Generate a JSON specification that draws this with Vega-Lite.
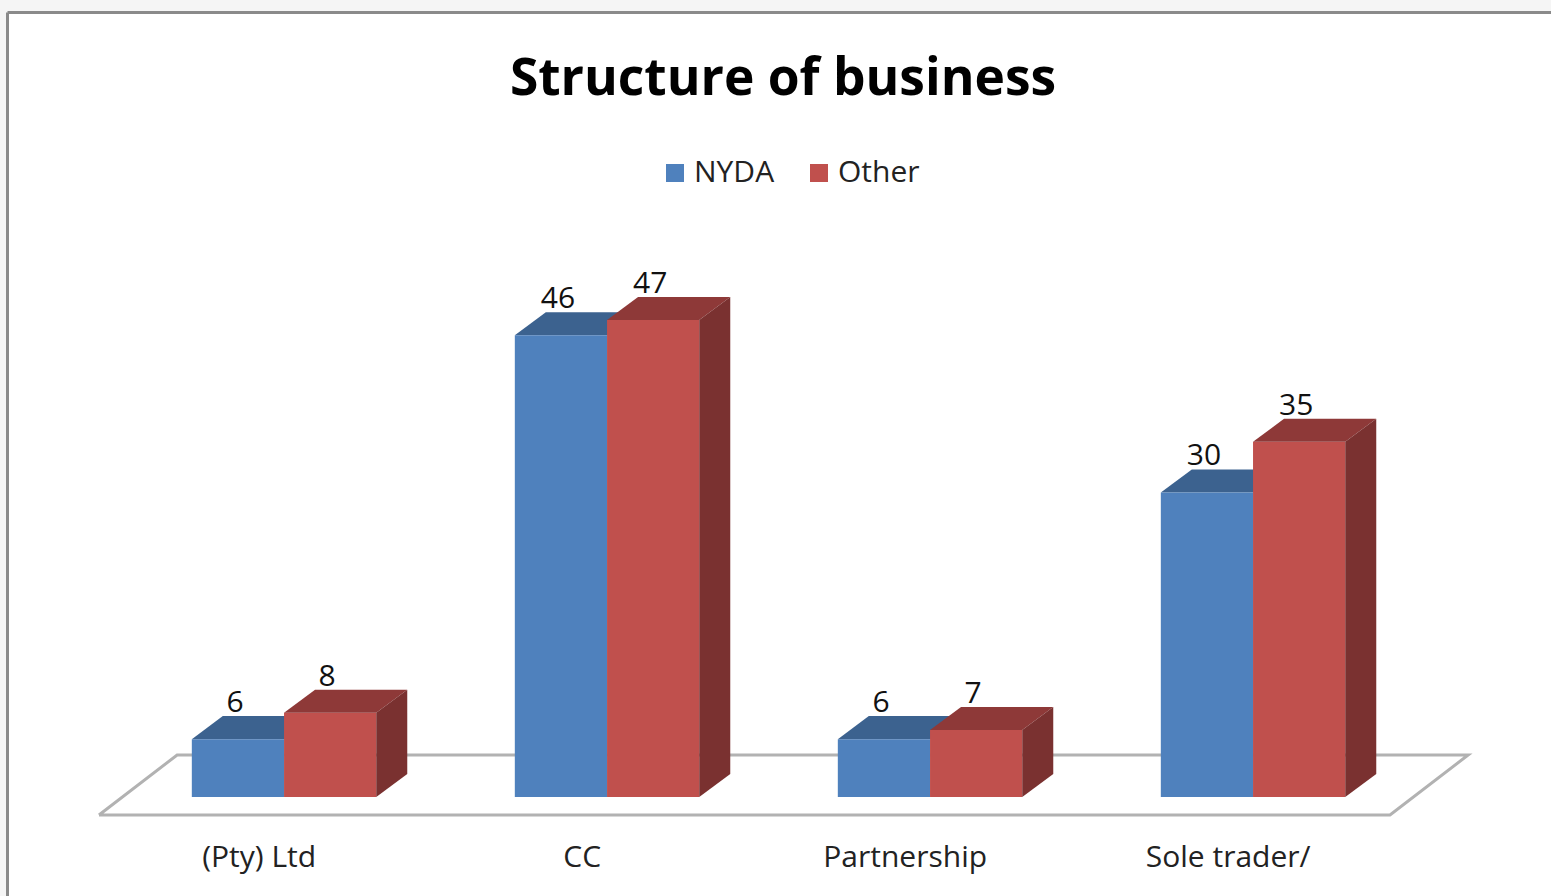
{
"$schema":"https://vega.github.io/schema/vega-lite/v6.json",
"autosize":"none","width":1544,"height":884,
"padding":{"left":7,"top":12,"right":0,"bottom":0},
"background":"#f5f5f5",
"config":{"view":{"fill":"#ffffff","stroke":null},"font":"Open Sans"},
"title":{"text":"Structure of business","font":"Open Sans","fontWeight":"bold","fontSize":51.5,"color":"#000000","anchor":"middle","offset":-134,"dx":4,"baseline":"alphabetic"},
"resolve":{"axis":{"x":"independent","y":"independent"}},
"datasets":{
"bars":[
{"business":"(Pty) Ltd","series":"NYDA","value":5.7},
{"business":"(Pty) Ltd","series":"Other","value":8.3},
{"business":"CC","series":"NYDA","value":45.5},
{"business":"CC","series":"Other","value":47},
{"business":"Partnership","series":"NYDA","value":5.7},
{"business":"Partnership","series":"Other","value":6.6},
{"business":"Sole trader/","series":"NYDA","value":30},
{"business":"Sole trader/","series":"Other","value":35}
],
"floor":[
{"fx":-0.576,"fy":-1.773},{"fx":-0.334,"fy":4.138},{"fx":3.663,"fy":4.138},{"fx":3.421,"fy":-1.773},{"fx":-0.576,"fy":-1.773}
]},
"data":{"name":"bars"},
"transform":[
{"calculate":"indexof(['(Pty) Ltd','CC','Partnership','Sole trader/'],datum.business)","as":"idx"},
{"calculate":"datum.idx-0.003+(datum.series==='NYDA'?-0.2855:0)","as":"x0"},
{"calculate":"datum.x0+0.2855","as":"x1"}
],
"layer":[
{"data":{"name":"floor"},"transform":[],
 "mark":{"type":"line","color":"#b2b2b2","strokeWidth":3,"strokeJoin":"miter"},
 "encoding":{"order":{"value":null},
  "x":{"field":"fx","type":"quantitative","scale":{"domain":[-0.8607,3.9195],"nice":false,"zero":false},"axis":{"orient":"top","labels":false,"ticks":false,"grid":false,"title":null,"domainColor":"#8a8a8a","domainWidth":3}},
  "y":{"field":"fy","type":"quantitative","scale":{"domain":[-9.754,77.34],"nice":false,"zero":false},"axis":{"orient":"left","labels":false,"ticks":false,"grid":false,"title":null,"domainColor":"#8a8a8a","domainWidth":3}}}},
{"transform":[{"filter":"datum.series==='NYDA'"},{"calculate":"datum.value","as":"near"},{"calculate":"datum.value+2.27","as":"far"},{"fold":["near","far"],"as":["edge","yv"]},{"calculate":"datum.x0+(datum.edge==='far'?0.096:0)","as":"xa"},{"calculate":"datum.xa+0.2855","as":"xb"}],
 "mark":{"type":"area","orient":"horizontal","color":"#3C628F","opacity":1},
 "encoding":{"detail":{"field":"business"},
  "x":{"field":"xa","type":"quantitative","scale":{"domain":[-0.8607,3.9195],"nice":false,"zero":false},"axis":null},"x2":{"field":"xb"},
  "y":{"field":"yv","type":"quantitative","scale":{"domain":[-9.754,77.34],"nice":false,"zero":false},"axis":null}}},
{"mark":{"type":"rect"},
 "encoding":{
  "x":{"field":"x0","type":"quantitative","scale":{"domain":[-0.8607,3.9195],"nice":false,"zero":false},"axis":null},"x2":{"field":"x1"},
  "y":{"field":"value","type":"quantitative","scale":{"domain":[-9.754,77.34],"nice":false,"zero":false},"axis":null},"y2":{"datum":0},
  "color":{"field":"series","type":"nominal","scale":{"domain":["NYDA","Other"],"range":["#4F81BD","#C0504D"]},
   "legend":{"orient":"none","legendX":653,"legendY":146,"direction":"horizontal","columns":2,"title":null,"symbolType":"square","symbolSize":324,"symbolStrokeWidth":0,"symbolOpacity":1,"labelFont":"Open Sans","labelFontSize":30,"labelColor":"#222222","labelOffset":4,"columnPadding":29,"padding":0,"gridAlign":"none"}}}},
{"transform":[{"filter":"datum.series==='Other'"},{"calculate":"datum.value","as":"near"},{"calculate":"datum.value+2.27","as":"far"},{"fold":["near","far"],"as":["edge","yv"]},{"calculate":"datum.x0+(datum.edge==='far'?0.096:0)","as":"xa"},{"calculate":"datum.xa+0.2855","as":"xb"}],
 "mark":{"type":"area","orient":"horizontal","color":"#8E3938","opacity":1},
 "encoding":{"detail":{"field":"business"},
  "x":{"field":"xa","type":"quantitative","scale":{"domain":[-0.8607,3.9195],"nice":false,"zero":false},"axis":null},"x2":{"field":"xb"},
  "y":{"field":"yv","type":"quantitative","scale":{"domain":[-9.754,77.34],"nice":false,"zero":false},"axis":null}}},
{"transform":[{"filter":"datum.series==='Other'"},{"calculate":"datum.x1","as":"near"},{"calculate":"datum.x1+0.096","as":"far"},{"fold":["near","far"],"as":["edge","xv"]},{"calculate":"datum.value+(datum.edge==='far'?2.27:0)","as":"ya"},{"calculate":"datum.edge==='far'?2.27:0","as":"yb"}],
 "mark":{"type":"area","color":"#7A3130","opacity":1},
 "encoding":{"detail":{"field":"business"},
  "x":{"field":"xv","type":"quantitative","scale":{"domain":[-0.8607,3.9195],"nice":false,"zero":false},"axis":null},
  "y":{"field":"ya","type":"quantitative","scale":{"domain":[-9.754,77.34],"nice":false,"zero":false},"axis":null},"y2":{"field":"yb"}}},
{"transform":[{"calculate":"datum.x0+0.1429","as":"xc"}],
 "mark":{"type":"text","font":"Open Sans","fontSize":30,"color":"#111111","dx":-3,"dy":-36,"baseline":"middle","align":"center"},
 "encoding":{
  "x":{"field":"xc","type":"quantitative","scale":{"domain":[-0.8607,3.9195],"nice":false,"zero":false},"axis":null},
  "y":{"field":"value","type":"quantitative","scale":{"domain":[-9.754,77.34],"nice":false,"zero":false},"axis":null},
  "text":{"field":"value","type":"quantitative","format":".0f"}}},
{"transform":[{"filter":"datum.series==='NYDA'"},{"calculate":"datum.idx-0.08","as":"xl"}],
 "mark":{"type":"text","font":"Open Sans","fontSize":30,"color":"#222222","baseline":"middle","align":"center"},
 "encoding":{
  "x":{"field":"xl","type":"quantitative","scale":{"domain":[-0.8607,3.9195],"nice":false,"zero":false},"axis":null},
  "y":{"datum":-6.0,"type":"quantitative","scale":{"domain":[-9.754,77.34],"nice":false,"zero":false},"axis":null},
  "text":{"field":"business"}}}
]
}
